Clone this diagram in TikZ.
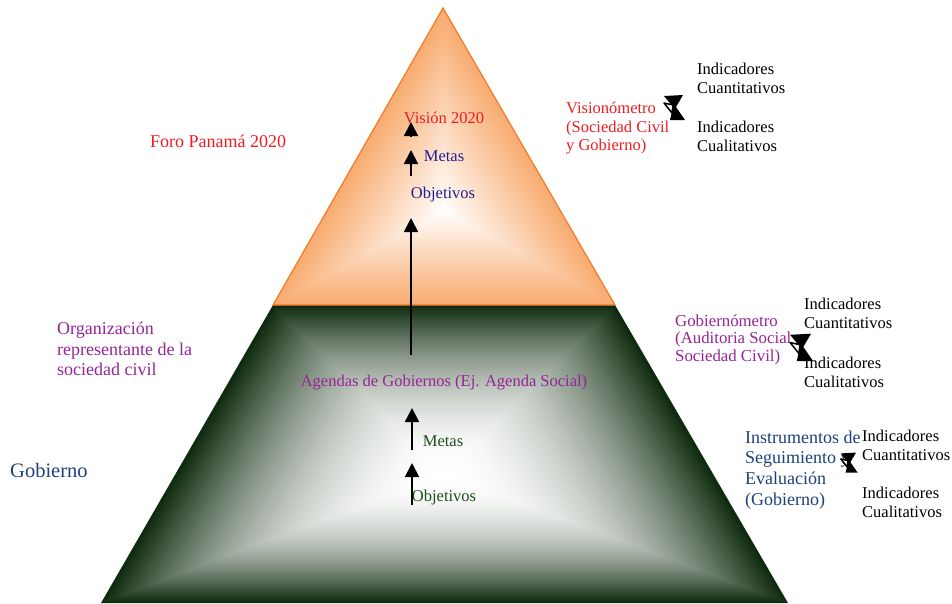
\documentclass[tikz,border=0pt]{standalone}
\usepackage{fontspec}
\setmainfont{Liberation Serif}
\usetikzlibrary{positioning, calc, arrows.meta}

\definecolor{pyrorange}{RGB}{248,172,112}
\definecolor{pyredge}{RGB}{242,122,40}
\definecolor{pyrgreen}{RGB}{16,44,16}
\definecolor{txtred}{RGB}{238,28,32}
\definecolor{txtnavy}{RGB}{32,32,140}
\definecolor{txtpurple}{RGB}{150,36,150}
\definecolor{txtgreen}{RGB}{30,78,30}
\definecolor{txtblue}{RGB}{30,64,124}

\begin{document}
\begin{tikzpicture}[x=1pt, y=-1pt,
    lbl/.style={inner sep=0pt, align=left, font=\fontsize{16.5}{19}\selectfont},
    biglbl/.style={inner sep=0pt, align=left, font=\fontsize{18}{20.8}\selectfont},
    uparrow/.style={line width=1.8pt, -{Triangle[length=14pt,width=14pt]}},
    hourglass/.pic={
      \fill (-9,-12) -- (10,-13) -- (3,-1) -- (12,12) -- (-3,12) -- (0,-1) -- cycle;
      \filldraw[fill=white, line width=1.5pt, line join=round] (0,-3) -- (-9,-5) -- (-1,5) -- cycle;
    }]
  \useasboundingbox (0,0) rectangle (952,603);

  % Pyramid corners
  \coordinate (apex) at (443,8);
  \coordinate (tl) at (273,305);
  \coordinate (tr) at (615,305);
  \coordinate (bl) at (101,603);
  \coordinate (br) at (788,603);
  \coordinate (tc) at (444,210);
  \coordinate (gc) at (444,475);

  % Lower part, dark green at the edges
  \foreach \i in {0,...,59}{
    \pgfmathsetmacro\s{1-\i/60}
    \pgfmathsetmacro\g{100*\s^2}
    \fill[pyrgreen!\g!white] ($(gc)!\s!(tl)$) -- ($(gc)!\s!(tr)$)
      -- ($(gc)!\s!(br)$) -- ($(gc)!\s!(bl)$) -- cycle;
  }

  % Upper triangle, orange at the edges
  \foreach \i in {0,...,59}{
    \pgfmathsetmacro\s{1-\i/60}
    \pgfmathsetmacro\g{100*\s}
    \fill[pyrorange!\g!white] ($(tc)!\s!(apex)$) -- ($(tc)!\s!(tr)$)
      -- ($(tc)!\s!(tl)$) -- cycle;
  }
  \draw[pyredge, line width=1.2pt] (apex) -- (tr) -- (tl) -- cycle;

  % Inside the triangle
  \node[lbl, txtred] (vision) at (444,118) {Visión 2020};
  \node[lbl, txtnavy] (metasT) at (444,156) {Metas};
  \node[lbl, txtnavy] (objT) at (443,195) {Objetivos};

  % Inside the trapezoid
  \node[lbl, txtpurple] (agenda) at (444,383) {Agendas de Gobiernos (Ej. Agenda Social)};
  \node[lbl, txtgreen] (metasB) at (443,441) {Metas};
  \node[lbl, txtgreen] (objB) at (444,498) {Objetivos};

  % Arrows
  \coordinate (a1s) at (411,137); \coordinate (a1e) at (411,122);
  \coordinate (a2s) at (411,176); \coordinate (a2e) at (411,150);
  \coordinate (a3s) at (411,355); \coordinate (a3e) at (411,218);
  \coordinate (a4s) at (412,450); \coordinate (a4e) at (412,408);
  \coordinate (a5s) at (412,505); \coordinate (a5e) at (412,463);
  \draw[uparrow] (a1s) -- (a1e);
  \draw[uparrow] (a2s) -- (a2e);
  \draw[uparrow] (a3s) -- (a3e);
  \draw[uparrow] (a4s) -- (a4e);
  \draw[uparrow] (a5s) -- (a5e);

  % Left side
  \node[biglbl, txtred, anchor=west] (foro) at (150,141) {Foro Panamá 2020};
  \node[biglbl, txtpurple, anchor=west] (org) at (57,349)
    {Organización\\representante de la\\sociedad civil};
  \node[inner sep=0pt, txtblue, anchor=west, font=\fontsize{20.5}{24}\selectfont]
    (gob) at (10,470) {Gobierno};

  % Right side, top
  \node[lbl, txtred, anchor=west, font=\fontsize{16.5}{18.5}\selectfont] (visio) at (566,128.5)
    {Visionómetro\\(Sociedad Civil\\y Gobierno)};
  \node[lbl, anchor=west] (indQ1) at (697,78.5) {Indicadores\\Cuantitativos};
  \node[lbl, anchor=west] (indL1) at (697,136.5) {Indicadores\\Cualitativos};

  % Right side, middle
  \node[lbl, txtpurple, anchor=west, font=\fontsize{16.8}{17.5}\selectfont] (gobm) at (675,339.5)
    {Gobiernómetro\\(Auditoria Social\\Sociedad Civil)};
  \node[lbl, anchor=west] (indQ2) at (804,313.5) {Indicadores\\Cuantitativos};
  \node[lbl, anchor=west] (indL2) at (804,372) {Indicadores\\Cualitativos};

  % Right side, bottom
  \node[biglbl, txtblue, anchor=west] (instr) at (745,470)
    {Instrumentos de\\Seguimiento y\\Evaluación\\(Gobierno)};
  \node[lbl, anchor=west] (indQ3) at (862,445) {Indicadores\\Cuantitativos};
  \node[lbl, anchor=west] (indL3) at (862,502.5) {Indicadores\\Cualitativos};

  % Brackets
  \pic at (673,108) {hourglass};
  \pic[scale=1.1] at (800,348) {hourglass};
  \pic[scale=0.8] at (848,463) {hourglass};
\end{tikzpicture}
\end{document}
